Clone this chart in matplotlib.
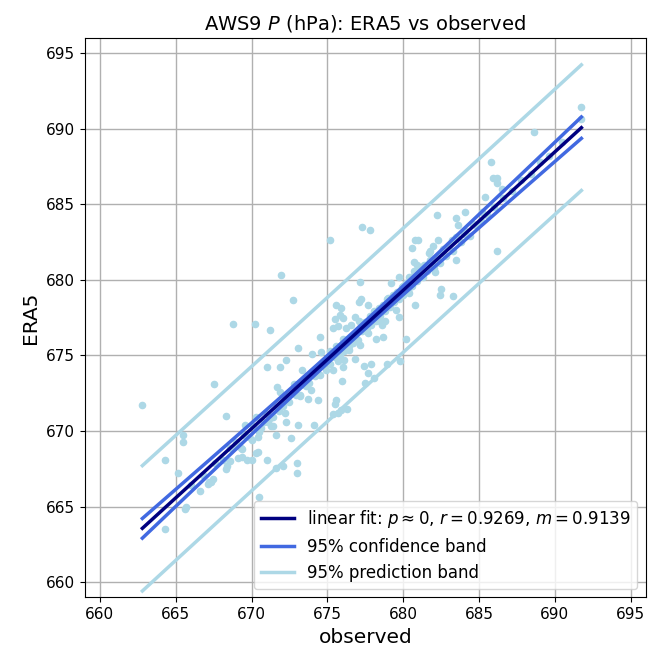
import numpy as np
import matplotlib
matplotlib.use("Agg")
import matplotlib.pyplot as plt

# observed vs ERA5 pressure (hPa)
obs = [662.8, 664.3, 664.3, 665.15, 665.5, 665.5, 665.7, 665.6, 666.6, 667.1,
       667.2, 667.45, 667.5, 668.3, 668.3, 668.55, 669.1, 669.4, 669.7, 668.8,
       670.2, 671.2, 671.0, 671.9, 672.3, 671.7, 670.5, 670.0, 670.4, 671.0,
       671.6, 671.4, 669.0, 669.4, 670.3, 670.0, 670.4, 671.1, 671.2, 671.3,
       671.6, 672.6, 672.3, 672.2, 672.05, 673.05, 674.1, 672.7, 671.95, 674.5,
       673.07, 674.0, 672.8, 673.9, 673.75, 674.4, 673.2, 675.5, 675.35, 675.6,
       672.1, 673.0, 673.0,
       677.3, 677.8, 675.2, 680.8, 680.6, 681.0, 681.7, 680.9, 681.1, 679.7,
       680.4, 677.15, 677.2, 677.1, 675.6, 675.9, 675.8, 675.5, 676.05, 675.4,
       675.7, 676.8, 677.1, 676.55, 678.5, 678.8, 679.1, 679.5, 679.7, 678.2,
       678.7, 680.2, 677.65, 677.15, 676.45, 676.85, 676.1, 677.4, 677.9, 677.7,
       678.9, 679.8, 675.35, 676.0, 675.96, 677.5, 678.1, 675.9, 676.3, 675.7,
       685.8, 685.9, 686.2, 686.2, 686.5, 685.4, 682.25, 683.5, 684.1, 681.97,
       681.8, 682.1, 683.5, 686.2, 682.5, 682.4, 683.3, 680.8, 680.4, 681.5,
       691.7, 691.75, 688.6, 690.5,
       669.5, 670.6, 671.8, 672.9, 673.6, 674.3, 674.8, 675.2, 676.0, 676.7,
       677.6, 678.3, 678.9, 679.4, 680.0, 680.5, 681.2, 681.9, 682.6, 683.2,
       684.0, 684.6, 685.2, 679.9, 680.7]
era5 = [671.7, 668.1, 663.5, 667.2, 669.75, 669.3, 665.0, 664.85, 666.0, 666.5,
        666.6, 666.8, 673.1, 671.0, 667.45, 668.0, 668.2, 668.8, 668.1, 677.05,
        677.05, 676.7, 674.2, 674.2, 674.7, 672.9, 665.6, 668.05, 668.6, 668.1,
        667.55, 670.3, 669.0, 668.3, 668.55, 669.4, 669.6, 670.6, 670.85, 670.35,
        669.7, 669.5, 670.6, 671.2, 671.65, 670.4, 670.4, 678.65, 680.3, 676.2,
        675.5, 675.1, 673.1, 672.7, 672.1, 672.05, 672.3, 671.8, 671.1, 672.05,
        667.7, 667.9, 667.2,
        683.5, 683.3, 682.65, 682.65, 682.1, 682.6, 681.8, 681.0, 680.6, 680.15,
        680.15, 679.85, 678.75, 678.5, 678.3, 678.15, 677.65, 677.4, 677.45, 676.8,
        676.95, 677.55, 677.3, 677.0, 677.3, 677.3, 678.4, 678.0, 677.55, 676.1,
        676.2, 676.1, 676.45, 675.7, 675.35, 674.75, 674.7, 674.3, 674.4, 673.85,
        674.4, 674.6, 674.0, 674.25, 673.27, 673.2, 673.5, 671.4, 671.45, 671.2,
        687.8, 686.7, 686.7, 686.4, 686.0, 685.5, 684.25, 684.1, 684.5, 682.2,
        681.9, 680.5, 681.3, 681.9, 679.4, 679.0, 678.9, 678.3, 679.1, 680.96,
        691.4, 690.6, 689.8, 689.1,
        669.7, 670.2, 671.3, 672.4, 673.0, 673.9, 674.5, 675.3, 676.1, 676.3,
        677.0, 677.8, 678.7, 679.0, 679.6, 680.0, 680.4, 681.2, 681.8, 682.6,
        683.0, 683.7, 684.5, 679.2, 680.6]

# points mostly hidden under the fit / confidence lines
obs_hidden = [666.0, 666.8, 667.6, 668.1, 668.6, 669.0, 669.3, 669.8, 670.1, 670.5,
              670.8, 671.0, 671.4, 671.7, 672.0, 672.2, 672.5, 672.8, 673.0, 673.2,
              673.4, 673.6, 673.8, 674.0, 674.2, 674.4, 674.5, 674.7, 674.9, 675.0,
              675.2, 675.3, 675.5, 675.6, 675.8, 676.0, 676.1, 676.3, 676.4, 676.6,
              676.7, 676.9, 677.0, 677.2, 677.3, 677.5, 677.6, 677.8, 677.9, 678.1,
              678.2, 678.4, 678.5, 678.7, 678.8, 679.0, 679.1, 679.3, 679.4, 679.6,
              679.7, 679.9, 680.0, 680.2, 680.3, 680.5, 680.6, 680.8, 680.9, 681.1,
              681.3, 681.4, 681.6, 681.8, 682.0, 682.2, 682.4, 682.6, 682.8, 683.0,
              683.3, 683.5, 683.8, 684.1, 684.4, 684.8, 685.1, 685.5, 686.0, 686.6,
              687.2, 687.8, 688.4, 689.0, 689.6, 670.3, 671.9, 673.3, 674.6, 676.2,
              677.7, 679.2, 680.7, 682.3, 683.6, 669.6, 668.4, 667.3, 678.6, 675.7]
era5_hidden = [666.4, 667.1, 667.9, 668.1, 668.9, 669.3, 668.9, 669.6, 670.3, 669.9,
               670.6, 671.1, 670.9, 671.6, 671.8, 672.3, 671.9, 672.5, 672.9, 672.4,
               673.1, 673.5, 673.2, 673.9, 673.6, 674.2, 673.7, 674.4, 674.0, 674.8,
               674.4, 675.2, 674.9, 675.6, 675.0, 675.8, 675.3, 676.0, 675.6, 676.3,
               675.8, 676.5, 676.0, 677.0, 676.6, 677.2, 676.8, 677.6, 677.0, 677.9,
               677.3, 678.1, 677.6, 678.3, 677.9, 678.8, 678.2, 679.0, 678.5, 679.2,
               678.7, 679.5, 679.0, 679.8, 679.3, 680.2, 679.6, 680.3, 679.9, 680.8,
               680.2, 681.0, 680.6, 681.3, 680.8, 681.5, 681.1, 682.0, 681.6, 682.3,
               681.9, 682.8, 682.5, 683.2, 682.9, 683.6, 683.9, 684.3, 684.8, 685.4,
               685.9, 686.6, 687.0, 687.8, 688.2, 670.9, 672.6, 674.0, 675.2, 676.8,
               678.3, 679.8, 681.2, 682.6, 683.6, 670.4, 667.7, 666.6, 677.0, 674.6]

fit_label = r"linear fit: $p \approx 0$, $r = 0.9269$, $m = 0.9139$"

x = np.array(obs + obs_hidden)
y = np.array(era5 + era5_hidden)
n = len(x)

# least squares fit + 95% bands
m, b = np.polyfit(x, y, 1)
resid = y - (m * x + b)
s = np.sqrt(np.sum(resid ** 2) / (n - 2))
t = 1.97
xbar = x.mean()
sxx = np.sum((x - xbar) ** 2)

xs = np.linspace(x.min(), x.max(), 100)
ys = m * xs + b
ci = t * s * np.sqrt(1 / n + (xs - xbar) ** 2 / sxx)
pi = t * s * np.sqrt(1 + 1 / n + (xs - xbar) ** 2 / sxx)

fig = plt.figure(figsize=(6.57, 6.52), dpi=100)
ax = fig.add_axes([0.129, 0.084, 0.854, 0.858])

ax.scatter(x, y, s=20, color="lightblue", zorder=2)
ax.plot(xs, ys, color="navy", lw=2.5, label=fit_label, zorder=4)
ax.plot(xs, ys + ci, color="royalblue", lw=2.5, label="95% confidence band", zorder=3)
ax.plot(xs, ys - ci, color="royalblue", lw=2.5, zorder=3)
ax.plot(xs, ys + pi, color="lightblue", lw=2.5, label="95% prediction band", zorder=3)
ax.plot(xs, ys - pi, color="lightblue", lw=2.5, zorder=3)

ax.set_xlim(659, 696)
ax.set_ylim(659, 696)
ax.set_xticks(np.arange(660, 696, 5))
ax.set_yticks(np.arange(660, 696, 5))
ax.tick_params(labelsize=11)
ax.grid(True, color="#b0b0b0", lw=1)
ax.set_axisbelow(True)

ax.set_xlabel("observed", fontsize=14.5)
ax.set_ylabel("ERA5", fontsize=14.5)
ax.set_title("AWS9 $P$ (hPa): ERA5 vs observed", fontsize=14)
ax.legend(loc="lower right", fontsize=12)

fig.savefig("out.png")
